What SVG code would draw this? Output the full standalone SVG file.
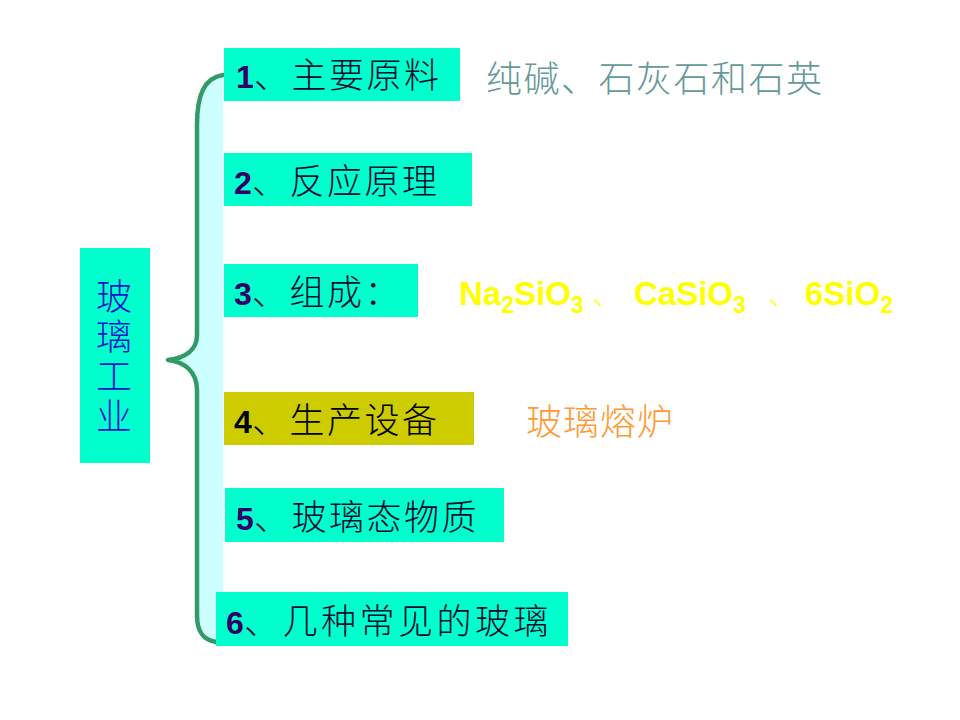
<svg xmlns="http://www.w3.org/2000/svg" width="960" height="720" viewBox="0 0 960 720">
<style>
.box{fill:#00FFCC}
.num{font-family:"Liberation Sans",Arial,sans-serif;font-weight:bold;font-size:32px;fill:#330066}
.cn{font-family:"Noto Sans CJK SC","Noto Sans CJK JP",sans-serif;font-size:35px;font-weight:300;fill:#0A0A33;letter-spacing:2.5px}
.formula{font-family:"Liberation Sans",Arial,sans-serif;font-weight:bold;font-size:33px;fill:#FFFF00}
.sub{font-size:23px}
</style>
<rect width="960" height="720" fill="#FFFFFF"/>
<g id="connectors">
<path d="M223,75 C204,78 197,95 197,125 L197,335 C197,350 185,358 168,360 C185,362 197,372 197,390 L197,615 C197,632 203,640 216,642 L223,642 L223,75 Z" fill="#CCFFFF" stroke="none"/>
<path d="M223,75 C204,78 197,95 197,125 L197,335 C197,350 185,358 168,360 C185,362 197,372 197,390 L197,615 C197,632 203,640 216,642" fill="none" stroke="#339966" stroke-width="4.5" stroke-linejoin="round" stroke-linecap="round"/>
</g>
<g id="root">
<rect x="80" y="248" width="70" height="215" class="box"/>
<text class="cn" x="114" y="278" writing-mode="vertical-rl" style="fill:#1414C8;font-size:36px;letter-spacing:4px">玻璃工业</text>
</g>
<g id="n1">
<rect x="224" y="48" width="236" height="53" class="box"/>
<text class="num" x="236" y="88">1</text>
<text class="cn" x="254" y="88">、主要原料</text>
</g>
<g id="n1-note">
<text class="cn" x="486" y="92" style="fill:#669999;font-size:36px;letter-spacing:1.5px">纯碱、石灰石和石英</text>
</g>
<g id="n2">
<rect x="224" y="153" width="248" height="53" class="box"/>
<text class="num" x="234" y="194">2</text>
<text class="cn" x="252" y="194">、反应原理</text>
</g>
<g id="n3">
<rect x="224" y="264" width="194" height="53" class="box"/>
<text class="num" x="234" y="305">3</text>
<text class="cn" x="252" y="305">、组成：</text>
</g>
<g id="n3-note">
<text class="formula" x="459" y="305">Na<tspan class="sub" dy="8">2</tspan><tspan dy="-8">SiO</tspan><tspan class="sub" dy="8">3</tspan></text>
<text class="cn" x="592" y="305" style="fill:#FFFF00;font-size:28px;letter-spacing:0">、</text>
<text class="formula" x="634" y="305">CaSiO<tspan class="sub" dy="8">3</tspan></text>
<text class="cn" x="768" y="305" style="fill:#FFFF00;font-size:28px;letter-spacing:0">、</text>
<text class="formula" x="805" y="305">6SiO<tspan class="sub" dy="8">2</tspan></text>
</g>
<g id="n4">
<rect x="224" y="392" width="250" height="53" fill="#CCCC00"/>
<text class="num" x="234" y="433" style="fill:#000000">4</text>
<text class="cn" x="252" y="433" style="fill:#000000">、生产设备</text>
</g>
<g id="n4-note">
<text class="cn" x="526" y="435" style="fill:#FF9933;font-size:36px;letter-spacing:1px">玻璃熔炉</text>
</g>
<g id="n5">
<rect x="225" y="488" width="279" height="54" class="box"/>
<text class="num" x="236" y="530">5</text>
<text class="cn" x="254" y="530">、玻璃态物质</text>
</g>
<g id="n6">
<rect x="216" y="592" width="352" height="54" class="box"/>
<text class="num" x="226" y="634">6</text>
<text class="cn" x="244" y="634" style="letter-spacing:3.5px">、几种常见的玻璃</text>
</g>
</svg>
